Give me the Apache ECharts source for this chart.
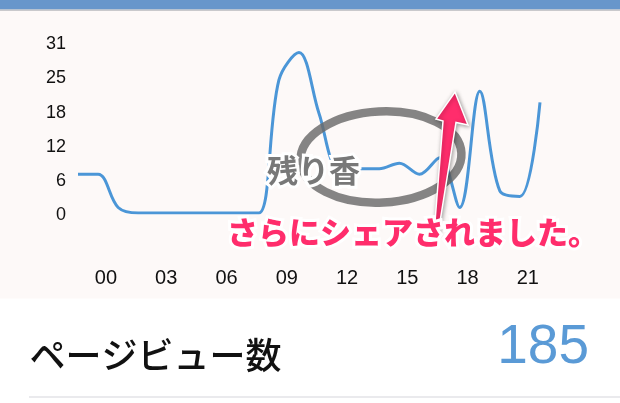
<!DOCTYPE html>
<html>
<head>
<meta charset="utf-8">
<script src="https://cdn.jsdelivr.net/npm/echarts@6/dist/echarts.min.js"></script>
<style>
  html, body { margin: 0; padding: 0; background: #ffffff; }
  #chart { width: 620px; height: 403px; }
</style>
</head>
<body>
<div id="chart"></div>
<script>
// Hourly page views (24 points, as drawn)
const pageViews = [7, 7, 1, 0, 0, 0, 0, 0, 0, 0, 24, 29, 18, 8, 8, 8, 9, 7, 10, 1, 22, 4, 3, 20];
const pointIndex = pageViews.map((_, i) => i);
// Hour tick labels
const xTickValues = [0, 3, 6, 9, 12, 15, 18, 21];
const xTickLabels = ['00', '03', '06', '09', '12', '15', '18', '21'];
// Y tick labels (0..31 in five steps)
const yMax = 31;
const yTickLabels = ['0', '6', '12', '18', '25', '31'];
const totalLabel = 'ページビュー数';
const totalValue = '185';

const yStep = yMax / 5;
const hourOffset = 1.393; // first plotted point lies before "00"

const chart = echarts.init(document.getElementById('chart'), null, { renderer: 'canvas' });

const jp = '"Noto Sans CJK JP", sans-serif';
const latin = '"Liberation Sans", Arial, sans-serif';

const option = {
  backgroundColor: '#ffffff',
  animation: false,
  grid: { left: 78, right: 80, top: 41.5, bottom: 190, containLabel: false },
  xAxis: [
    {
      type: 'category',
      data: pointIndex,
      boundaryGap: false,
      show: false
    },
    {
      type: 'value',
      position: 'bottom',
      min: -hourOffset,
      max: pageViews.length - 1 - hourOffset,
      axisLine: { show: false },
      axisTick: { show: false },
      splitLine: { show: false },
      axisLabel: {
        customValues: xTickValues,
        margin: 55,
        fontSize: 20,
        color: '#111111',
        fontFamily: latin,
        formatter: (v) => xTickLabels[xTickValues.indexOf(Math.round(v))] || ''
      }
    }
  ],
  yAxis: {
    type: 'value',
    min: 0,
    max: yMax,
    interval: yStep,
    axisLine: { show: false },
    axisTick: { show: false },
    splitLine: { show: false },
    axisLabel: {
      margin: 12,
      color: '#111111',
      formatter: (v) => '{t|' + yTickLabels[Math.round(v / yStep)] + '}',
      rich: {
        t: { fontSize: 18, color: '#111111', fontFamily: latin, padding: [5, 0, 0, 0] }
      }
    }
  },
  series: [
    {
      type: 'line',
      xAxisIndex: 0,
      data: pageViews,
      smooth: 0.35,
      showSymbol: false,
      symbol: 'none',
      lineStyle: { color: '#4b96d7', width: 3 },
      z: 3
    }
  ],
  graphic: [
    { type: 'rect', z: -10, shape: { x: 0, y: 10.5, width: 620, height: 288 }, style: { fill: '#fdf9f8' }, silent: true },
    { type: 'rect', z: 10, shape: { x: 0, y: 0, width: 620, height: 9.4 }, style: { fill: '#6796cb' }, silent: true },
    { type: 'rect', z: 10, shape: { x: 0, y: 9.4, width: 620, height: 1.3 }, style: { fill: '#b7b9bd' }, silent: true },
    {
      type: 'ellipse', z: 20,
      shape: { cx: 381, cy: 157, rx: 80.5, ry: 45.5 },
      rotation: 0.05, originX: 381, originY: 157,
      style: { fill: 'none', stroke: '#6a6a6a', lineWidth: 8.5, opacity: 0.82 },
      silent: true
    },
    {
      type: 'text', z: 21, x: 313.5, y: 170,
      style: { text: '残り香', font: 'bold 31px ' + jp, align: 'center', verticalAlign: 'middle',
        fill: '#ffffff', stroke: '#ffffff', lineWidth: 6, shadowBlur: 3, shadowColor: 'rgba(0,0,0,0.3)' },
      silent: true
    },
    {
      type: 'text', z: 22, x: 313.5, y: 170,
      style: { text: '残り香', font: 'bold 31px ' + jp, align: 'center', verticalAlign: 'middle', fill: '#787878' },
      silent: true
    },
    {
      type: 'polygon', z: 23,
      shape: { points: [[455, 92], [468, 125], [456, 122.5], [438, 234], [434, 234], [443, 121], [436, 119]] },
      style: { fill: '#ff2d6c', stroke: '#ffffff', lineWidth: 1.5, shadowBlur: 4, shadowColor: 'rgba(0,0,0,0.35)', shadowOffsetX: 1, shadowOffsetY: 1 },
      silent: true
    },
    {
      type: 'text', z: 24, x: 413, y: 232,
      style: { text: 'さらにシェアされました。', font: '900 31px ' + jp, align: 'center', verticalAlign: 'middle',
        fill: '#ffffff', stroke: '#ffffff', lineWidth: 6, shadowBlur: 4, shadowColor: 'rgba(0,0,0,0.35)', shadowOffsetX: 1, shadowOffsetY: 1 },
      silent: true
    },
    {
      type: 'text', z: 25, x: 413, y: 232,
      style: { text: 'さらにシェアされました。', font: '900 31px ' + jp, align: 'center', verticalAlign: 'middle', fill: '#ff2d6c' },
      silent: true
    },
    {
      type: 'text', z: 10, x: 29.5, y: 355,
      style: { text: totalLabel, font: '500 36px ' + jp, align: 'left', verticalAlign: 'middle', fill: '#111111' },
      silent: true
    },
    {
      type: 'text', z: 10, x: 589, y: 348,
      style: { text: totalValue, font: '55px ' + latin, align: 'right', verticalAlign: 'middle', fill: '#5a9ad6' },
      silent: true
    },
    { type: 'rect', z: 10, shape: { x: 29, y: 396.5, width: 591, height: 1 }, style: { fill: '#d6d6dc' }, silent: true }
  ]
};

chart.setOption(option);
</script>
</body>
</html>
